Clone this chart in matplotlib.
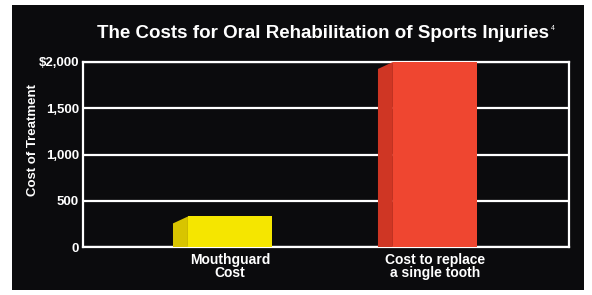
import matplotlib.pyplot as plt
import matplotlib.patches as mpatches
import numpy as np

# Chart data
categories = ["Mouthguard\nCost", "Cost to replace\na single tooth"]
costs = [330, 2000]
front_colors = ["#f5e600", "#ef4630"]
side_colors = ["#d8c400", "#cf3624"]
y_ticks = [0, 500, 1000, 1500, 2000]
y_tick_labels = ["0", "500", "1,000", "1,500", "$2,000"]

fig = plt.figure(figsize=(5.92, 2.95), dpi=100)
fig.patch.set_facecolor("white")

# Black panel behind everything
panel = mpatches.Rectangle((12 / 592, 1 - 290 / 295), 572 / 592, 285 / 295,
                           transform=fig.transFigure, facecolor="#0b0b0d",
                           edgecolor="none", zorder=-1)
fig.patches.append(panel)

ax = fig.add_axes([83 / 592, 1 - 247 / 295, 486 / 592, 185 / 295])
ax.set_zorder(2)
ax.set_facecolor("#0b0b0d")

x = np.arange(len(categories))
width = 0.41
dx = 0.073   # depth of the bar side face (x units)
dy = 75      # drop of the side face top (y units)

for xi, val, fc, sc in zip(x, costs, front_colors, side_colors):
    left = xi - width / 2
    # side face for the 3D look
    side = mpatches.Polygon([(left - dx, 0), (left - dx, val - dy),
                             (left, val), (left, 0)],
                            closed=True, facecolor=sc, edgecolor="none", zorder=3)
    ax.add_patch(side)
    ax.bar(xi, val, width=width, color=fc, zorder=4)

ax.set_xlim(-0.717, 1.654)
ax.set_ylim(0, 2000)

ax.set_yticks(y_ticks)
ax.set_yticklabels(y_tick_labels)
ax.set_xticks(x)
ax.set_xticklabels(categories)

for lbl in ax.get_yticklabels():
    lbl.set_color("white")
    lbl.set_fontweight("bold")
    lbl.set_fontfamily("Liberation Sans")
    lbl.set_fontsize(9.5)
for lbl in ax.get_xticklabels():
    lbl.set_color("white")
    lbl.set_fontweight("bold")
    lbl.set_fontfamily("Liberation Sans")
    lbl.set_fontsize(10)
    lbl.set_linespacing(0.95)

ax.tick_params(axis="both", length=0, pad=3)
ax.tick_params(axis="x", pad=4)

ax.yaxis.grid(True, color="white", linewidth=1.6, zorder=1)
ax.set_axisbelow(True)
for s in ax.spines.values():
    s.set_color("white")
    s.set_linewidth(1.6)
    s.set_zorder(2)

ax.set_ylabel("Cost of Treatment", color="white", fontweight="bold",
              fontsize=9.5, family="Liberation Sans")
ax.yaxis.set_label_coords(-0.09, 0.58)

fig.text(0.545, 1 - 33 / 295, "The Costs for Oral Rehabilitation of Sports Injuries",
         color="white", fontweight="bold", fontsize=13.5, family="Liberation Sans",
         ha="center", va="center")
fig.text(551 / 592, 1 - 29 / 295, "4", color="white", fontsize=5,
         family="Liberation Sans", ha="left", va="center")

fig.savefig("out.png", dpi=100, facecolor=fig.get_facecolor())
